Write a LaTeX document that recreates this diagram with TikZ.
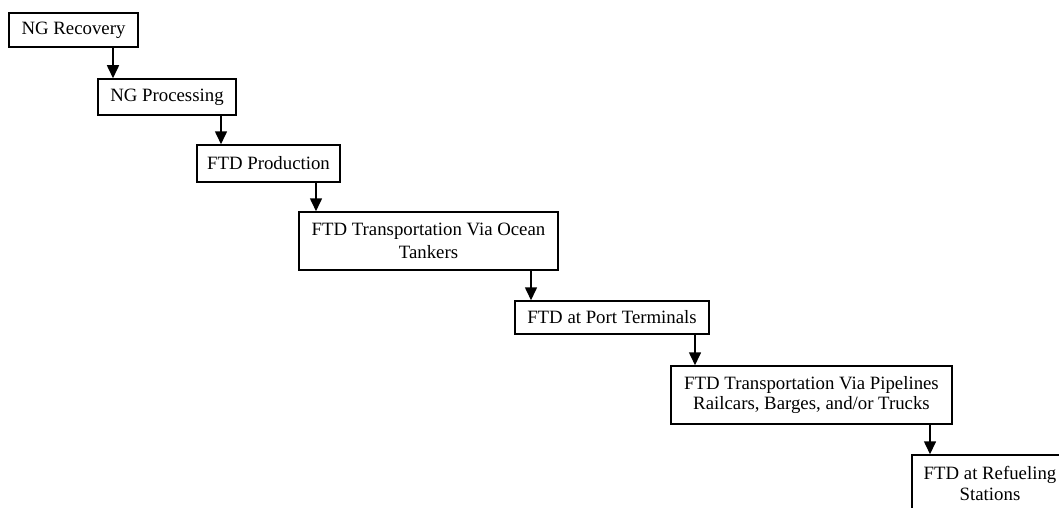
\documentclass[tikz,border=0pt]{standalone}
\usepackage{fontspec}
\setmainfont{Liberation Serif}
\usetikzlibrary{arrows.meta}
\begin{document}
\begin{tikzpicture}[x=1pt,y=-1pt,
  box/.style={draw, line width=1.5pt, rectangle, inner sep=0pt, align=center,
    font=\fontsize{18.8}{22}\selectfont},
  arr/.style={-{Triangle[width=12pt,length=13pt]}, line width=1.6pt}]
\clip (0,0) rectangle (1059,508);
\fill[white] (0,0) rectangle (1059,508);
\node[box, minimum width=129pt, minimum height=34pt] (b1) at (73.5,30) {NG Recovery};
\node[box, minimum width=138pt, minimum height=36pt] (b2) at (167,97) {NG Processing};
\node[box, minimum width=143pt, minimum height=37pt] (b3) at (268.5,163.5) {FTD Production};
\node[box, minimum width=259pt, minimum height=58pt, font=\fontsize{18.8}{23}\selectfont] (b4) at (428.5,241) {FTD Transportation Via Ocean\\Tankers};
\node[box, minimum width=194pt, minimum height=33pt] (b5) at (612,317.5) {FTD at Port Terminals};
\node[box, minimum width=281pt, minimum height=58pt, font=\fontsize{18.8}{20.5}\selectfont] (b6) at (811.5,395) {FTD Transportation Via Pipelines\\Railcars, Barges, and/or Trucks};
\node[box, minimum width=156pt, minimum height=57pt, font=\fontsize{18.8}{20.5}\selectfont] (b7) at (990,483.5) {FTD at Refueling\\Stations};
\draw[arr] (b1.south -| 113,0) -- (b2.north -| 113,0);
\draw[arr] (b2.south -| 221,0) -- (b3.north -| 221,0);
\draw[arr] (b3.south -| 316,0) -- (b4.north -| 316,0);
\draw[arr] (b4.south -| 531,0) -- (b5.north -| 531,0);
\draw[arr] (b5.south -| 695,0) -- (b6.north -| 695,0);
\draw[arr] (b6.south -| 930,0) -- (b7.north -| 930,0);
\end{tikzpicture}
\end{document}
